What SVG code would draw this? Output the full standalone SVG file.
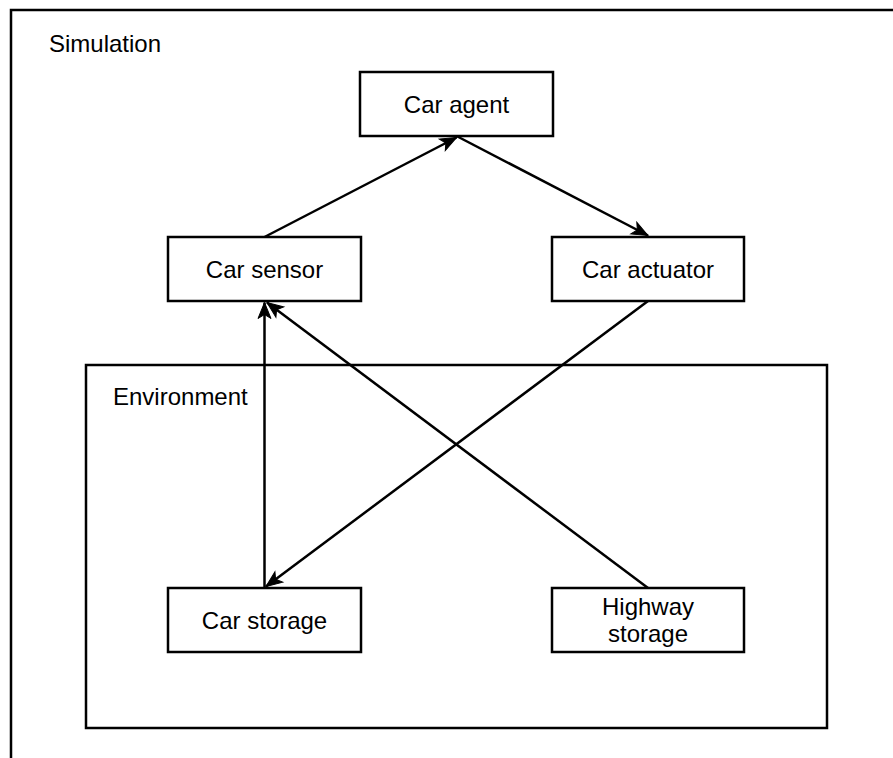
<svg xmlns="http://www.w3.org/2000/svg" width="893" height="758" viewBox="0 0 893 758">
  <defs>
    <style>
      .box { fill: #ffffff; stroke: #000000; stroke-width: 2.5; }
      .frame { fill: none; stroke: #000000; stroke-width: 2.5; }
      .label { font-family: "Liberation Sans", Arial, sans-serif; font-size: 24px; fill: #000000; }
      .mid { text-anchor: middle; }
      .edge { fill: none; stroke: #000000; stroke-width: 2.5; }
    </style>
    <marker id="arrow" markerUnits="userSpaceOnUse" markerWidth="20" markerHeight="16" viewBox="-18 -8 20 16" refX="0" refY="0" orient="auto">
      <path d="M0,0 L-16,-6.5 L-12,0 L-16,6.5 Z" fill="#000000" stroke="#000000" stroke-width="1"/>
    </marker>
  </defs>
  <rect width="893" height="758" fill="#ffffff"/>

  <!-- outer container -->
  <g id="simulation">
    <rect class="frame" x="11" y="10" width="900" height="760"/>
    <text class="label" x="49" y="52">Simulation</text>
  </g>

  <!-- inner container -->
  <g id="environment">
    <rect class="frame" x="86" y="365" width="741" height="363"/>
    <text class="label" x="113" y="405">Environment</text>
  </g>

  <g id="car-agent">
    <rect class="box" x="360" y="72" width="193" height="64"/>
    <text class="label mid" x="456.5" y="112.5">Car agent</text>
  </g>

  <g id="car-sensor">
    <rect class="box" x="168" y="237" width="193" height="64"/>
    <text class="label mid" x="264.5" y="277.5">Car sensor</text>
  </g>

  <g id="car-actuator">
    <rect class="box" x="552" y="237" width="192" height="64"/>
    <text class="label mid" x="648" y="277.5">Car actuator</text>
  </g>

  <g id="car-storage">
    <rect class="box" x="168" y="588" width="193" height="64"/>
    <text class="label mid" x="264.5" y="628.5">Car storage</text>
  </g>

  <g id="highway-storage">
    <rect class="box" x="552" y="588" width="192" height="64"/>
    <text class="label mid" x="648" y="614.5">Highway</text>
    <text class="label mid" x="648" y="642">storage</text>
  </g>

  <!-- connectors -->
  <g id="connectors">
    <line class="edge" x1="264.5" y1="237" x2="456.5" y2="137.5" marker-end="url(#arrow)"/>
    <line class="edge" x1="456.5" y1="136" x2="648" y2="235.5" marker-end="url(#arrow)"/>
    <line class="edge" x1="264.5" y1="588" x2="264.5" y2="302.5" marker-end="url(#arrow)"/>
    <line class="edge" x1="648" y1="588" x2="267" y2="302.5" marker-end="url(#arrow)"/>
    <line class="edge" x1="648" y1="301" x2="266" y2="586.5" marker-end="url(#arrow)"/>
  </g>
</svg>
